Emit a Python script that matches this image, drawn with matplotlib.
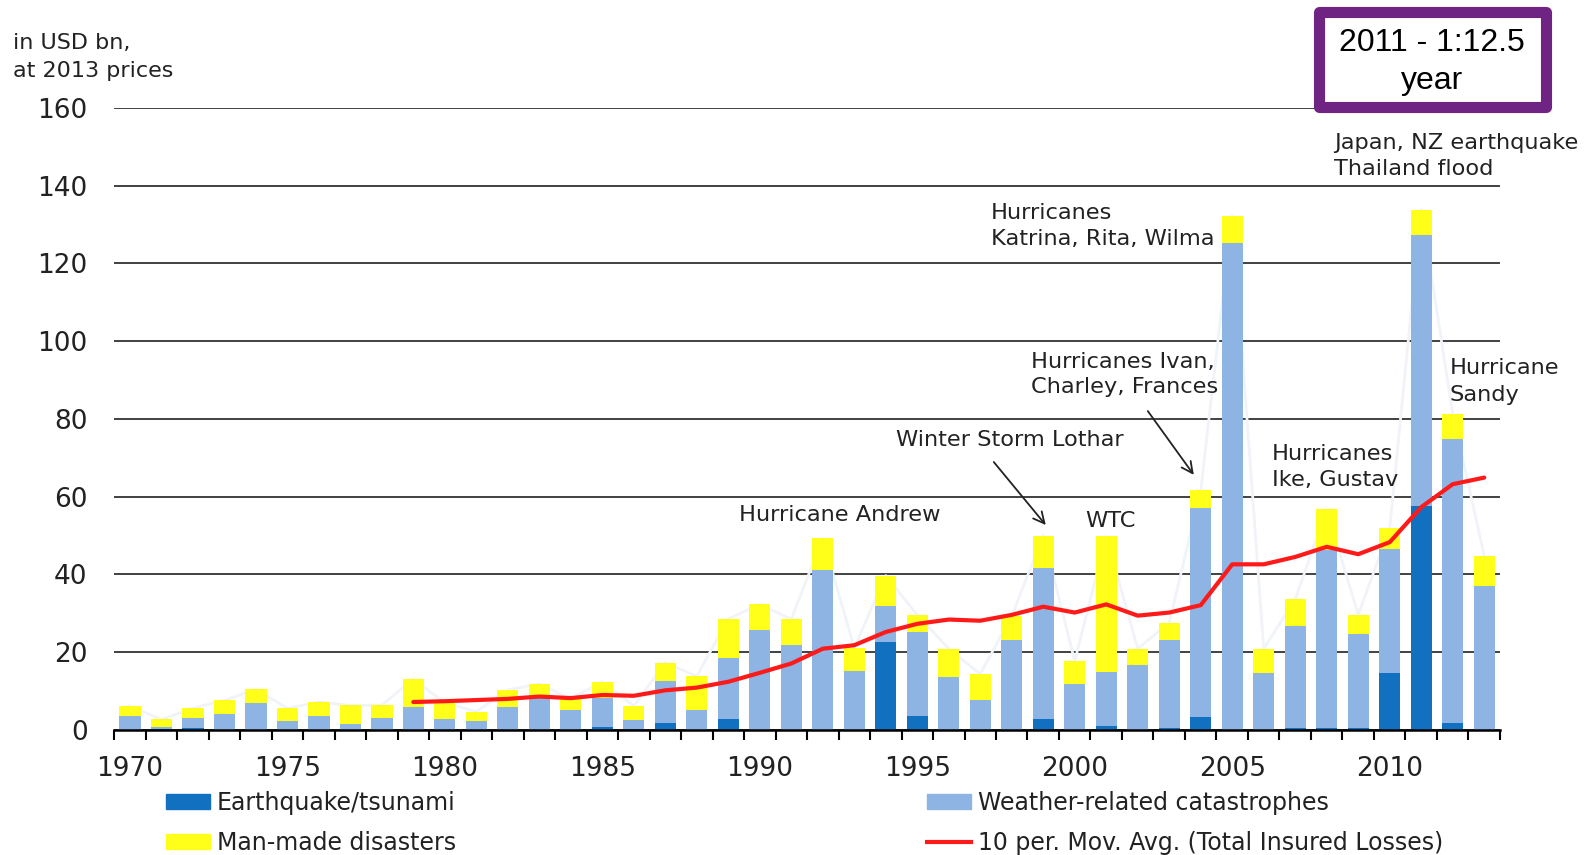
import matplotlib
matplotlib.use("Agg")
import matplotlib.pyplot as plt
from matplotlib.patches import Patch, Rectangle
from matplotlib.lines import Line2D
import numpy as np

# Insured catastrophe losses, USD bn at 2013 prices
anos = list(range(1970, 2014))
terremoto = [0, 0.3, 0.4, 0, 0, 0, 0, 0, 0, 0,
             0, 0, 0, 0, 0, 0.7, 0.3, 1.8, 0, 2.9,
             0, 0, 0, 0, 22.6, 3.6, 0, 0, 0, 2.9,
             0, 1.0, 0, 0.5, 3.3, 0, 0, 0.5, 0.5, 0.5,
             14.7, 57.5, 1.7, 0]
clima = [3.5, 0.4, 2.7, 4.2, 7.0, 2.3, 3.5, 1.5, 3.0, 5.9,
         2.7, 2.4, 6.0, 8.8, 5.1, 7.4, 2.3, 10.8, 5.1, 15.6,
         25.7, 21.9, 41.1, 15.1, 9.4, 21.5, 13.6, 7.7, 23.1, 38.7,
         11.7, 14.0, 16.7, 22.7, 53.8, 125.3, 14.7, 26.3, 45.7, 24.2,
         31.9, 69.9, 73.2, 36.9]
humano = [2.7, 2.0, 2.5, 3.4, 3.5, 3.3, 3.7, 4.8, 3.4, 7.2,
          4.3, 2.3, 4.3, 3.1, 2.9, 4.3, 3.6, 4.7, 8.7, 10.1,
          6.6, 6.6, 8.2, 6.0, 7.7, 4.5, 7.3, 6.7, 6.2, 8.4,
          6.0, 34.8, 4.2, 4.4, 4.5, 6.9, 6.2, 6.8, 10.5, 4.9,
          5.3, 6.4, 6.4, 7.9]

anos_media = list(range(1979, 2014))
media_movel = [7.2, 7.4, 7.7, 8.0, 8.6, 8.2, 9.0, 8.8, 10.2, 10.9,
               12.4, 14.7, 17.1, 20.9, 21.8, 25.2, 27.3, 28.4, 28.1, 29.6,
               31.7, 30.2, 32.3, 29.4, 30.2, 32.1, 42.6, 42.6, 44.5, 47.1,
               45.2, 48.3, 57.3, 63.2, 64.9]

anos_rotulo = list(range(1970, 2011, 5))
ticks_y = list(range(0, 161, 20))

COR_TERREMOTO = '#1170C0'
COR_CLIMA = '#8EB4E3'
COR_HUMANO = '#FFFF1A'
COR_MEDIA = '#FF1A1A'
COR_TEXTO = '#222222'

terremoto = np.array(terremoto)
clima = np.array(clima)
humano = np.array(humano)
total = terremoto + clima + humano

fig = plt.figure(figsize=(15.93, 8.55), dpi=100)
ax = fig.add_axes([0.0716, 0.1462, 0.87, 0.7278])

# linha clarinha dos totais por tras das barras
ax.plot(anos, total, color='#f0f3f8', lw=2, zorder=1)

largura = 0.68
ax.bar(anos, terremoto, largura, color=COR_TERREMOTO, zorder=2)
ax.bar(anos, clima, largura, bottom=terremoto, color=COR_CLIMA, zorder=2)
ax.bar(anos, humano, largura, bottom=terremoto + clima, color=COR_HUMANO, zorder=2)
ax.plot(anos_media, media_movel, color=COR_MEDIA, lw=3, zorder=3,
        solid_capstyle='round')

ax.set_xlim(1969.5, 2013.5)
ax.set_ylim(0, 160)
ax.set_yticks(ticks_y)
ax.set_xticks(anos_rotulo)
ax.set_xticks(np.arange(1969.5, 2014, 1), minor=True)
ax.tick_params(axis='x', which='major', length=0, pad=19, labelsize=19,
               labelcolor=COR_TEXTO)
ax.tick_params(axis='x', which='minor', length=7.5, width=1.5, color='black',
               direction='out')
ax.tick_params(axis='y', length=0, pad=19, labelsize=19, labelcolor=COR_TEXTO)
ax.grid(axis='y', color='#333333', lw=1.3, zorder=0)
ax.set_axisbelow(True)
for lado in ['left', 'right', 'top']:
    ax.spines[lado].set_visible(False)
ax.spines['bottom'].set_color('black')
ax.spines['bottom'].set_linewidth(1.8)
ax.spines['bottom'].set_zorder(4)

# anotacoes dos eventos
fs = 16.2
ax.text(1989.33, 55.3, 'Hurricane Andrew', fontsize=fs, color=COR_TEXTO, va='center')
ax.text(1994.32, 74.6, 'Winter Storm Lothar', fontsize=fs, color=COR_TEXTO, va='center')
ax.text(2000.32, 53.7, 'WTC', fontsize=fs, color=COR_TEXTO, va='center')
ax.text(1998.6, 91.4, 'Hurricanes Ivan,\nCharley, Frances', fontsize=fs,
        color=COR_TEXTO, va='center', linespacing=1.35)
ax.text(1997.33, 129.6, 'Hurricanes\nKatrina, Rita, Wilma', fontsize=fs,
        color=COR_TEXTO, va='center', linespacing=1.35)
ax.text(2008.22, 147.6, 'Japan, NZ earthquake\nThailand flood', fontsize=fs,
        color=COR_TEXTO, va='center', linespacing=1.35)
ax.text(2011.9, 89.6, 'Hurricane\nSandy', fontsize=fs, color=COR_TEXTO,
        va='center', linespacing=1.4)
ax.text(2006.25, 67.6, 'Hurricanes\nIke, Gustav', fontsize=fs, color=COR_TEXTO,
        va='center', linespacing=1.35)

seta = dict(arrowstyle='->', lw=1.3, color=COR_TEXTO, mutation_scale=20,
            shrinkA=0, shrinkB=0)
ax.annotate('', xy=(1999.08, 52.7), xytext=(1997.43, 68.9), arrowprops=seta)
ax.annotate('', xy=(2003.78, 65.6), xytext=(2002.32, 82.0), arrowprops=seta)

fig.text(13 / 1593, 1 - 57 / 855, 'in USD bn,\nat 2013 prices', fontsize=16,
         color=COR_TEXTO, va='center', linespacing=1.5)

# caixa roxa
caixa = Rectangle((0.8277, 0.8743), 0.1425, 0.1122, transform=fig.transFigure,
                  facecolor='white', edgecolor='#6F2383', lw=8,
                  joinstyle='round', zorder=5)
fig.add_artist(caixa)
fig.text(0.899, 0.9275, '2011 - 1:12.5\nyear', fontsize=23, ha='center',
         va='center', family='Liberation Sans', color='black', zorder=6,
         linespacing=1.32)

# legenda em duas colunas separadas
kw = dict(frameon=False, fontsize=17, handlelength=1.86, handleheight=0.65,
          handletextpad=0.3, labelspacing=0.68, borderpad=0, loc='upper left',
          labelcolor=COR_TEXTO)
fig.legend(handles=[Patch(color=COR_TERREMOTO, label='Earthquake/tsunami'),
                    Patch(color=COR_HUMANO, label='Man-made disasters')],
           bbox_to_anchor=(154 / 1593, 1 - 779 / 855), **kw)
fig.legend(handles=[Patch(color=COR_CLIMA, label='Weather-related catastrophes'),
                    Line2D([], [], color=COR_MEDIA, lw=3,
                           label='10 per. Mov. Avg. (Total Insured Losses)')],
           bbox_to_anchor=(915 / 1593, 1 - 779 / 855), **kw)

fig.savefig('out.png', dpi=100)
